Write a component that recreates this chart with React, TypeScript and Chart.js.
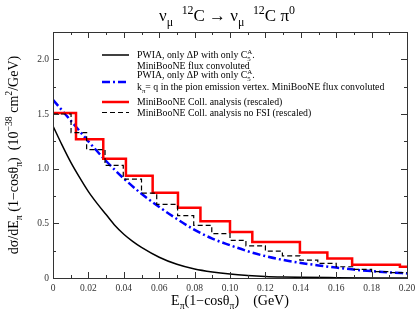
import React, { useEffect, useRef } from "react";
import { Chart, registerables } from "chart.js";

Chart.register(...registerables);

// PWIA, only ΔP with only C5A, MiniBooNE flux convoluted (black solid)
const pwiaX = [0, 0.005, 0.01, 0.015, 0.02, 0.025, 0.03, 0.035, 0.04, 0.045, 0.05, 0.06, 0.07, 0.08, 0.09, 0.1, 0.11, 0.12, 0.13, 0.14, 0.16, 0.18, 0.2];
const pwiaY = [1.39, 1.22, 1.06, 0.92, 0.79, 0.68, 0.58, 0.48, 0.4, 0.335, 0.28, 0.19, 0.125, 0.082, 0.055, 0.036, 0.023, 0.014, 0.009, 0.006, 0.003, 0.001, 0.0005];

// PWIA with k_pi = q (blue dash-dot)
const kpiX = [0, 0.01, 0.02, 0.03, 0.04, 0.05, 0.06, 0.07, 0.08, 0.09, 0.1, 0.11, 0.12, 0.13, 0.14, 0.15, 0.16, 0.17, 0.18, 0.19, 0.2];
const kpiY = [1.63, 1.44, 1.25, 1.07, 0.91, 0.77, 0.65, 0.54, 0.44, 0.36, 0.3, 0.245, 0.2, 0.165, 0.138, 0.115, 0.095, 0.077, 0.063, 0.051, 0.042];

// MiniBooNE Coll. analysis (rescaled), red histogram
const collEdges = [0, 0.013, 0.0284, 0.0412, 0.0563, 0.0706, 0.0833, 0.1, 0.1126, 0.1395, 0.155, 0.169, 0.196, 0.2];
const collVals = [1.51, 1.27, 1.09, 0.935, 0.78, 0.643, 0.518, 0.42, 0.33, 0.234, 0.178, 0.122, 0.103];

// MiniBooNE Coll. analysis no FSI (rescaled), black dashed histogram
const noFsiEdges = [0, 0.0102, 0.019, 0.0294, 0.0397, 0.05, 0.0586, 0.0704, 0.0795, 0.0897, 0.1, 0.109, 0.12, 0.1296, 0.1395, 0.1496, 0.16, 0.17, 0.18, 0.19, 0.2];
const noFsiVals = [1.5, 1.33, 1.175, 1.03, 0.905, 0.776, 0.673, 0.57, 0.482, 0.406, 0.345, 0.294, 0.245, 0.203, 0.164, 0.133, 0.103, 0.079, 0.058, 0.049];

const xMin = 0, xMax = 0.2, xStep = 0.02;
const yMin = 0, yMax = 2.25, yStep = 0.5;

const SERIF = "'Liberation Serif', 'Times New Roman', serif";

type Seg = { t?: string; s?: "sub" | "sup"; sub?: string; sup?: string };

function drawRich(ctx: CanvasRenderingContext2D, segs: Seg[], x: number, y: number, size: number, align: "left" | "center", color: string) {
  const small = size * 0.7;
  const widths = segs.map((sg) => {
    if (sg.sub !== undefined || sg.sup !== undefined) {
      ctx.font = `${small}px ${SERIF}`;
      return Math.max(ctx.measureText(sg.sub || "").width, ctx.measureText(sg.sup || "").width);
    }
    ctx.font = `${sg.s ? small : size}px ${SERIF}`;
    return ctx.measureText(sg.t || "").width;
  });
  const total = widths.reduce((a, b) => a + b, 0);
  let cx = align === "center" ? x - total / 2 : x;
  ctx.fillStyle = color;
  ctx.textBaseline = "alphabetic";
  ctx.textAlign = "left";
  segs.forEach((sg, i) => {
    if (sg.sub !== undefined || sg.sup !== undefined) {
      ctx.font = `${small}px ${SERIF}`;
      if (sg.sup) ctx.fillText(sg.sup, cx, y - size * 0.42);
      if (sg.sub) ctx.fillText(sg.sub, cx, y + size * 0.28);
    } else if (sg.s) {
      ctx.font = `${small}px ${SERIF}`;
      ctx.fillText(sg.t || "", cx, y + (sg.s === "sub" ? size * 0.28 : -size * 0.42));
    } else {
      ctx.font = `${size}px ${SERIF}`;
      ctx.fillText(sg.t || "", cx, y);
    }
    cx += widths[i];
  });
}

const titleSegs: Seg[] = [
  { t: "ν" }, { t: "μ", s: "sub" }, { t: "  " }, { t: "12", s: "sup" }, { t: "C → ν" }, { t: "μ", s: "sub" }, { t: "  " }, { t: "12", s: "sup" }, { t: "C π" }, { t: "0", s: "sup" },
];
const xTitleSegs: Seg[] = [{ t: "E" }, { t: "π", s: "sub" }, { t: "(1−cosθ" }, { t: "π", s: "sub" }, { t: ")    (GeV)" }];
const yTitleSegs: Seg[] = [
  { t: "dσ/dE" }, { t: "π", s: "sub" }, { t: " (1−cosθ" }, { t: "π", s: "sub" }, { t: ")  (10" }, { t: "−38", s: "sup" }, { t: " cm" }, { t: "2", s: "sup" }, { t: "/GeV)" },
];

const legendRows: { seg: Seg[]; dy: number }[][] = [
  [
    { seg: [{ t: "PWIA, only ΔP with only C" }, { sub: "5", sup: "A" }, { t: "." }], dy: 0 },
    { seg: [{ t: "MiniBooNE flux convoluted" }], dy: 11 },
  ],
  [
    { seg: [{ t: "PWIA, only ΔP with only C" }, { sub: "5", sup: "A" }, { t: "." }], dy: -7 },
    { seg: [{ t: "k" }, { t: "π", s: "sub" }, { t: "= q in the pion emission vertex. MiniBooNE flux convoluted" }], dy: 5 },
  ],
  [{ seg: [{ t: "MiniBooNE Coll. analysis (rescaled)" }], dy: 0 }],
  [{ seg: [{ t: "MiniBooNE Coll. analysis no FSI (rescaled)" }], dy: 0 }],
];

const styles = [
  { color: "#000000", width: 1.5, dash: [] as number[] },
  { color: "#0000ff", width: 2.5, dash: [8, 3, 2, 3] },
  { color: "#ff0000", width: 2.5, dash: [] as number[] },
  { color: "#000000", width: 1.2, dash: [5, 3] },
];
const legendY = [55, 82, 102, 112.5];

const decorPlugin = {
  id: "decor",
  afterDraw(chart: any) {
    const ctx: CanvasRenderingContext2D = chart.ctx;
    const { left, right, top, bottom } = chart.chartArea;
    const xs = chart.scales.x;
    const ys = chart.scales.y;
    ctx.save();
    // frame
    ctx.strokeStyle = "#333";
    ctx.lineWidth = 1;
    ctx.strokeRect(left + 0.5, top + 0.5, right - left, bottom - top);
    // inward ticks
    ctx.beginPath();
    const xt = xs.ticks.map((t: any) => t.value);
    const xvals: [number, number][] = [];
    xt.forEach((v: number, i: number) => {
      xvals.push([v, 6]);
      if (i < xt.length - 1) xvals.push([(v + xt[i + 1]) / 2, 3]);
    });
    xvals.forEach(([v, len]) => {
      const p = Math.round(xs.getPixelForValue(v)) + 0.5;
      ctx.moveTo(p, bottom);
      ctx.lineTo(p, bottom - len);
      ctx.moveTo(p, top);
      ctx.lineTo(p, top + len);
    });
    const yt = ys.ticks.map((t: any) => t.value);
    const yvals: [number, number][] = [];
    yt.forEach((v: number) => {
      yvals.push([v, 6]);
      if (v + yStep / 2 <= yMax) yvals.push([v + yStep / 2, 3]);
    });
    yvals.forEach(([v, len]) => {
      const p = Math.round(ys.getPixelForValue(v)) + 0.5;
      ctx.moveTo(left, p);
      ctx.lineTo(left + len, p);
      ctx.moveTo(right, p);
      ctx.lineTo(right - len, p);
    });
    ctx.stroke();

    // title
    drawRich(ctx, titleSegs, (left + right) / 2 - 3, 21, 17, "center", "#000");
    // x title
    drawRich(ctx, xTitleSegs, (left + right) / 2, 305, 14, "center", "#000");
    // y title
    ctx.save();
    ctx.translate(18, (top + bottom) / 2);
    ctx.rotate(-Math.PI / 2);
    drawRich(ctx, yTitleSegs, 0, 0, 14, "center", "#000");
    ctx.restore();

    // legend
    legendRows.forEach((rows, i) => {
      const st = styles[i];
      const ly = legendY[i];
      ctx.beginPath();
      ctx.strokeStyle = st.color;
      ctx.lineWidth = st.width;
      ctx.setLineDash(st.dash);
      ctx.moveTo(102, ly);
      ctx.lineTo(129, ly);
      ctx.stroke();
      ctx.setLineDash([]);
      rows.forEach((r) => drawRich(ctx, r.seg, 137, ly + r.dy + 3, 9.8, "left", "#000"));
    });
    ctx.restore();
  },
};

function stepData(edges: number[], vals: number[]) {
  const pts = edges.slice(0, -1).map((e, i) => ({ x: e, y: vals[i] }));
  pts.push({ x: edges[edges.length - 1], y: vals[vals.length - 1] });
  return pts;
}

export default function App() {
  const ref = useRef<HTMLCanvasElement>(null);
  useEffect(() => {
    document.body.style.margin = "0";
    const canvas = ref.current!;
    const chart = new Chart(canvas, {
      type: "line",
      data: {
        datasets: [
          {
            data: stepData(noFsiEdges, noFsiVals),
            borderColor: styles[3].color,
            borderWidth: styles[3].width,
            borderDash: styles[3].dash,
            stepped: "before",
            pointRadius: 0,
            fill: false,
          },
          {
            data: stepData(collEdges, collVals),
            borderColor: styles[2].color,
            borderWidth: styles[2].width,
            stepped: "before",
            pointRadius: 0,
            fill: false,
          },
          {
            data: kpiX.map((x, i) => ({ x, y: kpiY[i] })),
            borderColor: styles[1].color,
            borderWidth: styles[1].width,
            borderDash: styles[1].dash,
            cubicInterpolationMode: "monotone",
            pointRadius: 0,
            fill: false,
          },
          {
            data: pwiaX.map((x, i) => ({ x, y: pwiaY[i] })),
            borderColor: styles[0].color,
            borderWidth: styles[0].width,
            cubicInterpolationMode: "monotone",
            pointRadius: 0,
            fill: false,
          },
        ] as any,
      },
      options: {
        responsive: false,
        animation: false,
        layout: { padding: { left: 0, right: 8, top: 32, bottom: 0 } },
        plugins: { legend: { display: false }, title: { display: false }, tooltip: { enabled: false } },
        scales: {
          x: {
            type: "linear",
            min: xMin,
            max: xMax,
            grid: { display: false, drawTicks: false },
            border: { display: false },
            ticks: {
              stepSize: xStep,
              includeBounds: false,
              padding: 5,
              color: "#333",
              font: { family: SERIF, size: 9.5 },
              maxRotation: 0,
              autoSkip: false,
              callback: (v: any) => (Number(v) === 0 ? "0" : Number(v).toFixed(2)),
            },
            afterFit: (s: any) => {
              s.height = 37;
              s.paddingLeft = 0;
              s.paddingRight = 0;
            },
          },
          y: {
            type: "linear",
            min: yMin,
            max: yMax,
            grid: { display: false, drawTicks: false },
            border: { display: false },
            ticks: {
              stepSize: yStep,
              includeBounds: false,
              padding: 4,
              color: "#333",
              font: { family: SERIF, size: 9.5 },
              callback: (v: any) => (Number(v) === 0 ? "0" : Number(v).toFixed(1)),
            },
            afterFit: (s: any) => {
              s.width = 53;
              s.paddingTop = 0;
              s.paddingBottom = 0;
            },
          },
        },
      } as any,
      plugins: [decorPlugin],
    });
    return () => chart.destroy();
  }, []);
  return <canvas ref={ref} width={415} height={315} style={{ display: "block" }} />;
}
